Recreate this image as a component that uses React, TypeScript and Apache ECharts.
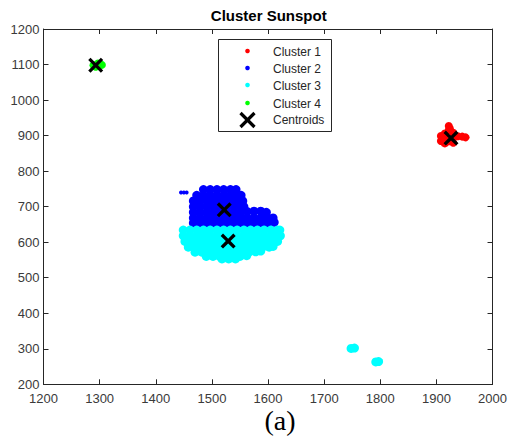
import React, { useEffect, useRef } from "react";
import * as echarts from "echarts";

// ---------------- data ----------------
const xTicks = [1200, 1300, 1400, 1500, 1600, 1700, 1800, 1900, 2000];
const yTicks = [200, 300, 400, 500, 600, 700, 800, 900, 1000, 1100, 1200];

const seriesNames = ["Cluster 1", "Cluster 2", "Cluster 3", "Cluster 4", "Centroids"];
const seriesColors = ["#ff0000", "#0000ff", "#00ffff", "#00ff00", "#000000"];

// Cluster 1 (red) — spot near (1925, 895)
const cluster1 = [
  [1908, 885], [1908, 899], [1915, 878], [1915, 892], [1915, 906],
  [1922, 884], [1922, 915], [1922, 927], [1930, 880], [1930, 895],
  [1930, 908], [1938, 898], [1946, 897], [1952, 895], [1924, 920],
];

// Cluster 2 (blue) — upper part of the big spot
const cluster2 = [
  [1485, 748], [1497, 748], [1509, 748], [1521, 748], [1533, 748], [1543, 748],
  [1473, 732], [1485, 732], [1497, 732], [1509, 732], [1521, 732], [1533, 732], [1545, 732], [1552, 732],
  [1467, 716], [1479, 716], [1491, 716], [1503, 716], [1515, 716], [1527, 716], [1539, 716], [1551, 716], [1555, 716],
  [1467, 700], [1479, 700], [1491, 700], [1503, 700], [1515, 700], [1527, 700], [1539, 700], [1551, 700], [1557, 700],
  [1467, 684], [1479, 684], [1491, 684], [1503, 684], [1515, 684], [1527, 684], [1539, 684], [1551, 684],
  [1563, 686], [1575, 687], [1587, 687], [1597, 684],
  [1467, 668], [1479, 668], [1491, 668], [1503, 668], [1515, 668], [1527, 668], [1539, 668], [1551, 668],
  [1563, 668], [1575, 668], [1587, 668], [1599, 668], [1609, 668],
  [1467, 654], [1479, 654], [1491, 654], [1503, 654], [1515, 654], [1527, 654], [1539, 654], [1551, 654],
  [1563, 654], [1575, 654], [1587, 654], [1599, 654], [1611, 656],
];
// small blue dash left of the spot
const cluster2Dash = [[1445, 740], [1450, 740], [1455, 740]];

// Cluster 3 (cyan) — lower part of the big spot + two small spots
const cluster3 = [
  [1449, 634], [1461, 634], [1473, 634], [1485, 634], [1497, 634], [1509, 634], [1521, 634], [1533, 634],
  [1545, 634], [1557, 634], [1569, 634], [1581, 634], [1593, 634], [1605, 634], [1617, 634], [1621, 634],
  [1449, 618], [1461, 618], [1473, 618], [1485, 618], [1497, 618], [1509, 618], [1521, 618], [1533, 618],
  [1545, 618], [1557, 618], [1569, 618], [1581, 618], [1593, 618], [1605, 618], [1617, 618], [1622, 618],
  [1452, 602], [1464, 602], [1476, 602], [1488, 602], [1500, 602], [1512, 602], [1524, 602], [1536, 602],
  [1548, 602], [1560, 602], [1572, 602], [1584, 602], [1596, 602], [1608, 602], [1617, 602],
  [1458, 586], [1470, 586], [1482, 586], [1494, 586], [1506, 586], [1518, 586], [1530, 586], [1542, 586],
  [1554, 586], [1566, 586], [1578, 586], [1590, 586], [1602, 586], [1609, 588],
  [1470, 572], [1482, 572], [1494, 572], [1506, 572], [1518, 572], [1530, 572], [1542, 572],
  [1554, 572], [1566, 572], [1578, 573], [1587, 575],
  [1490, 560], [1502, 560], [1514, 560], [1526, 560], [1538, 560], [1550, 560], [1562, 562],
  [1518, 553], [1530, 553], [1542, 553],
  [1748, 301], [1754, 302],
  [1792, 263], [1797, 264],
];

// Cluster 4 (green) — small spot near (1295, 1100)
const cluster4 = [[1289, 1098], [1297, 1103], [1304, 1099], [1293, 1094]];

// Centroids
const centroids = [[1926, 893], [1522, 691], [1529, 603], [1293, 1098]];

const X_PATH =
  "path://M0,2.5L2.5,0L8,5.5L13.5,0L16,2.5L10.5,8L16,13.5L13.5,16L8,10.5L2.5,16L0,13.5L5.5,8Z";

export default function App() {
  const ref = useRef<HTMLDivElement>(null);

  useEffect(() => {
    if (!ref.current) return;
    const chart = echarts.init(ref.current, null, { renderer: "svg" });

    const axisColor = "#262626";
    const labelColor = "#3a3a3a";
    const font = "'Liberation Sans', Arial, Helvetica, sans-serif";

    const xBase = {
      type: "value" as const,
      min: xTicks[0],
      max: xTicks[xTicks.length - 1],
      interval: 100,
      splitLine: { show: false },
      axisLine: { show: true, onZero: false, lineStyle: { color: axisColor, width: 1 } },
      axisTick: { show: true, inside: true, length: 5, lineStyle: { color: axisColor } },
    };
    const yBase = {
      type: "value" as const,
      min: yTicks[0],
      max: yTicks[yTicks.length - 1],
      interval: 100,
      splitLine: { show: false },
      axisLine: { show: true, onZero: false, lineStyle: { color: axisColor, width: 1 } },
      axisTick: { show: true, inside: true, length: 5, lineStyle: { color: axisColor } },
    };

    const legendRows = [52, 69, 86, 104, 120];
    const legendGraphics: any[] = [
      {
        type: "rect",
        shape: { x: 218.5, y: 39.5, width: 113, height: 92 },
        style: { fill: "#ffffff", stroke: axisColor, lineWidth: 1 },
        z: 100,
      },
    ];
    seriesNames.forEach((name, i) => {
      const y = legendRows[i];
      if (i < 4) {
        legendGraphics.push({
          type: "circle",
          shape: { cx: 247.5, cy: y - 1, r: 2.3 },
          style: { fill: seriesColors[i] },
          z: 101,
        });
      } else {
        legendGraphics.push({
          type: "line",
          shape: { x1: 240.5, y1: y - 7, x2: 254.5, y2: y + 7 },
          style: { stroke: "#000", lineWidth: 3.2 },
          z: 101,
        });
        legendGraphics.push({
          type: "line",
          shape: { x1: 254.5, y1: y - 7, x2: 240.5, y2: y + 7 },
          style: { stroke: "#000", lineWidth: 3.2 },
          z: 101,
        });
      }
      legendGraphics.push({
        type: "text",
        x: 273,
        y,
        style: {
          text: name,
          fill: "#262626",
          font: `12px ${font}`,
          textAlign: "left",
          textVerticalAlign: "middle",
        },
        z: 101,
      });
    });

    const dotSeries = (name: string, color: string, data: any[], size = 9) => ({
      name,
      type: "scatter" as const,
      xAxisIndex: 0,
      yAxisIndex: 0,
      symbol: "circle",
      symbolSize: size,
      itemStyle: { color, opacity: 1 },
      emphasis: { disabled: true },
      data,
    });

    const plain = (v: number) => String(v);

    chart.setOption({
      animation: false,
      backgroundColor: "#ffffff",
      title: {
        text: "Cluster Sunspot",
        left: 268.75,
        top: 8,
        padding: 0,
        textAlign: "center",
        textStyle: { fontSize: 15, fontWeight: "bold", color: "#000", fontFamily: font },
      },
      grid: { left: 43.5, top: 29, width: 450.5, height: 355.3, containLabel: false },
      xAxis: [
        {
          ...xBase,
          position: "bottom",
          axisLabel: { color: labelColor, fontSize: 13, fontFamily: font, margin: 8, formatter: plain },
        },
        { ...xBase, position: "top", axisLabel: { show: false } },
      ],
      yAxis: [
        {
          ...yBase,
          position: "left",
          axisLabel: { color: labelColor, fontSize: 13, fontFamily: font, margin: 4, formatter: plain },
        },
        { ...yBase, position: "right", axisLabel: { show: false } },
      ],
      series: [
        dotSeries(seriesNames[0], seriesColors[0], cluster1, 8),
        dotSeries(
          seriesNames[1],
          seriesColors[1],
          [...cluster2, ...cluster2Dash.map((p) => ({ value: p, symbolSize: 4 }))]
        ),
        dotSeries(seriesNames[2], seriesColors[2], cluster3),
        dotSeries(seriesNames[3], seriesColors[3], cluster4, 8),
        {
          name: seriesNames[4],
          type: "scatter",
          xAxisIndex: 0,
          yAxisIndex: 0,
          symbol: X_PATH,
          symbolSize: 15,
          itemStyle: { color: "#000", opacity: 1 },
          emphasis: { disabled: true },
          z: 5,
          data: centroids,
        },
      ],
      graphic: [
        ...legendGraphics,
        {
          type: "text",
          x: 280,
          y: 420,
          style: {
            text: "(a)",
            fill: "#000",
            font: "28px 'Liberation Serif', 'Times New Roman', serif",
            textAlign: "center",
            textVerticalAlign: "middle",
          },
        },
      ],
    });

    return () => chart.dispose();
  }, []);

  return (
    <div
      ref={ref}
      style={{ position: "fixed", left: 0, top: 0, width: 510, height: 437, background: "#fff" }}
    />
  );
}
